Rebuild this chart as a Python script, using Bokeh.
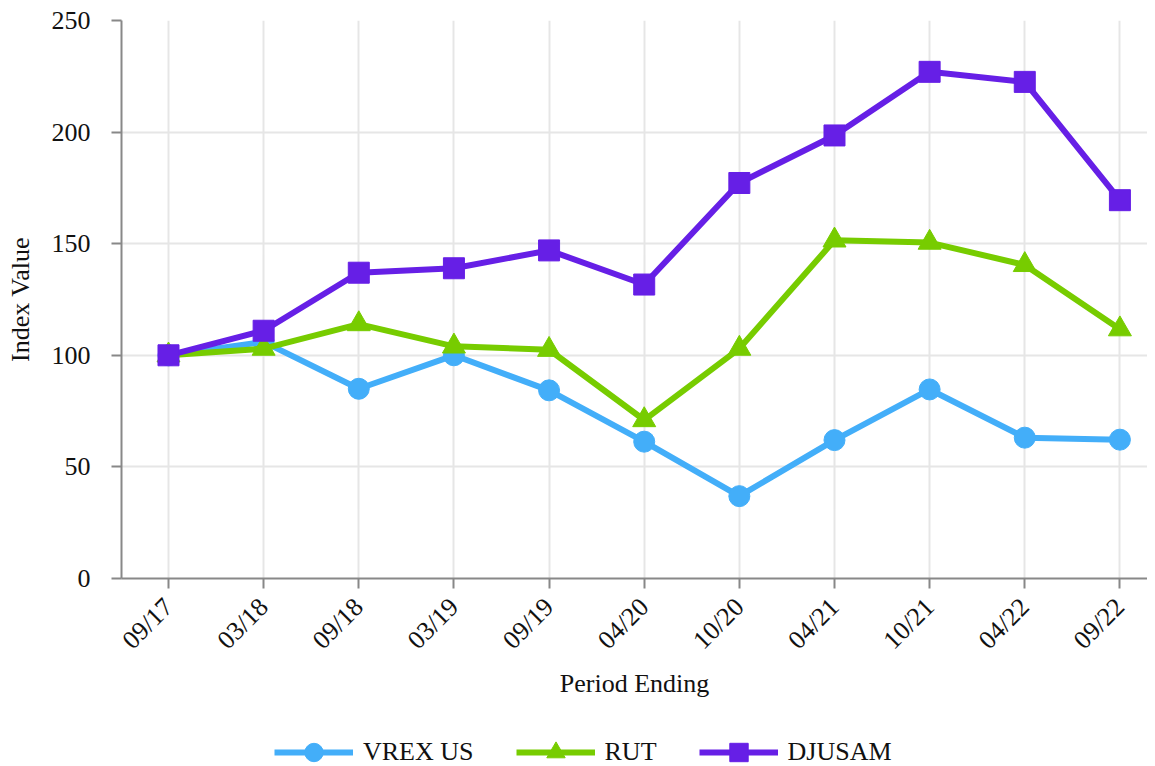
from bokeh.plotting import figure
from bokeh.models import Legend, LegendItem, FixedTicker, Range1d
from bokeh.layouts import column
from bokeh.embed import file_html
from bokeh.resources import INLINE

periods = ["09/17", "03/18", "09/18", "03/19", "09/19", "04/20",
           "10/20", "04/21", "10/21", "04/22", "09/22"]
vrex = [100, 106, 85, 100, 84.3, 61.3, 36.9, 62, 84.7, 63.1, 62.2]
rut = [100, 103, 114, 104, 102.5, 71, 103, 151.5, 150.5, 140.5, 111.7]
djusam = [100, 111, 137, 139, 147, 131.7, 177.2, 198.5, 227, 222.5, 169.5]

series_names = ["VREX US", "RUT", "DJUSAM"]
colors = ["#43AEF9", "#77CC00", "#661FE6"]
markers = ["circle", "triangle", "square"]

FONT = "Liberation Serif"
FS = "26px"
LW = 6
x = list(range(len(periods)))

p = figure(frame_width=1026, frame_height=558, output_backend="svg", toolbar_location=None,
           x_range=Range1d(-0.494, 10.29), y_range=Range1d(0, 250),
           min_border_left=121, min_border_top=20, min_border_right=0,
           min_border_bottom=118)
p.outline_line_color = None
p.background_fill_color = "white"

for name, vals, col, mk in zip(series_names, [vrex, rut, djusam], colors, markers):
    p.line(x, vals, line_color=col, line_width=LW)
    p.scatter(x, vals, marker=mk, size=21 if mk != "triangle" else 23,
              fill_color=col, line_color=col)

for ax in (p.xaxis[0], p.yaxis[0]):
    ax.axis_line_color = "#888888"
    ax.axis_line_width = 2
    ax.major_tick_line_color = "#888888"
    ax.major_tick_line_width = 2
    ax.major_tick_in = 0
    ax.major_tick_out = 10
    ax.minor_tick_line_color = None
    ax.major_label_text_font = FONT
    ax.major_label_text_font_size = FS
    ax.major_label_text_color = "#111111"
    ax.axis_label_text_font = FONT
    ax.axis_label_text_font_size = FS
    ax.axis_label_text_font_style = "normal"
    ax.axis_label_text_color = "#111111"

p.xaxis.ticker = FixedTicker(ticks=x)
p.xaxis.major_label_overrides = {i: s for i, s in enumerate(periods)}
p.xaxis.major_label_orientation = 0.785398
p.xaxis.axis_label = "Period Ending"
p.xaxis.major_label_standoff = 14
p.xaxis.axis_label_standoff = 1

p.yaxis.ticker = FixedTicker(ticks=[0, 50, 100, 150, 200, 250])
p.yaxis.axis_label = "Index Value"
p.yaxis.major_label_standoff = 21
p.yaxis.axis_label_standoff = 14

p.xgrid.grid_line_color = "#e6e6e6"
p.ygrid.grid_line_color = "#e6e6e6"
p.xgrid.grid_line_width = 2
p.ygrid.grid_line_width = 2
p.xgrid.ticker = FixedTicker(ticks=x)

# legend strip (its sample renderers sit outside the visible range)
p2 = figure(width=1147, height=70, output_backend="svg", toolbar_location=None,
            x_axis_type=None, y_axis_type=None, x_range=Range1d(0, 1), y_range=Range1d(0, 1),
            min_border=0)
p2.outline_line_color = None
p2.grid.visible = False
items = []
for name, vals, col, mk in zip(series_names, [vrex, rut, djusam], colors, markers):
    r1 = p2.line(x[:1], vals[:1], line_color=col, line_width=LW)
    r2 = p2.scatter(x[:1], vals[:1], marker=mk, fill_color=col, line_color=col)
    items.append(LegendItem(label=name, renderers=[r1, r2]))

legend = Legend(items=items, orientation="horizontal", location=(153, -5),
                label_text_font=FONT, label_text_font_size=FS,
                label_text_color="#111111",
                glyph_width=79, glyph_height=46, spacing=42,
                border_line_color=None, background_fill_alpha=0,
                margin=0, padding=0, label_standoff=10)
p2.add_layout(legend, "center")

open("out.html", "w").write(file_html(column(p, p2), INLINE))
